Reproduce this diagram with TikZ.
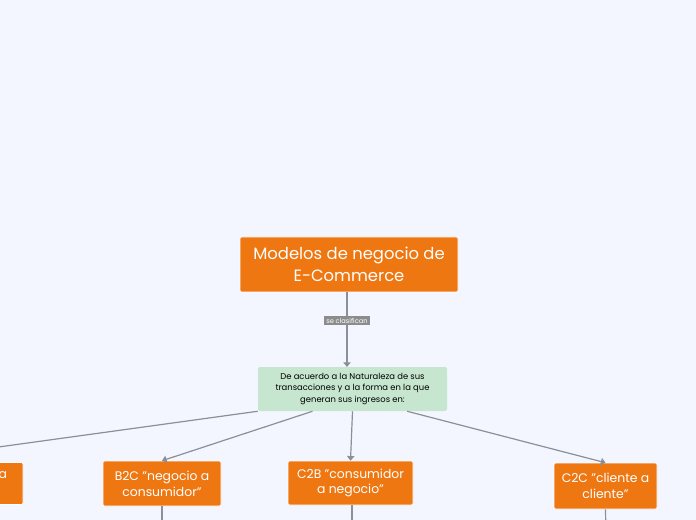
\documentclass[tikz,border=0pt]{standalone}
\usepackage{fontspec}
\setmainfont{Poppins}
\usepackage{tikz}
\usetikzlibrary{shapes,arrows.meta,positioning,calc}
\usepackage{xcolor}

\definecolor{bgblue}{HTML}{F3F6FE}
\definecolor{mmorange}{HTML}{EE7712}
\definecolor{mmgreen}{HTML}{C6E6CF}
\definecolor{mmline}{HTML}{8A8F9A}
\definecolor{mmlabel}{HTML}{8C8C8C}

\tikzset{
    topic/.style={rectangle, rounded corners=1.5pt, fill=mmorange, draw=white, line width=0.4pt, text=white, align=center, inner sep=0pt},
    sub/.style={rectangle, rounded corners=1.5pt, fill=mmgreen, text=black, align=center, inner sep=0pt, font=\fontsize{6.3}{8.8}\selectfont},
    conn/.style={draw=mmline, line width=0.9pt, -{Triangle[width=5.5pt,length=3.5pt]}},
    tail/.style={draw=mmline, line width=0.9pt}
}

\begin{document}
\begin{tikzpicture}[x=0.75pt, y=-0.75pt]
    \fill[bgblue] (0,0) rectangle (696,520);
    \useasboundingbox (0,0) rectangle (696,520);
    \clip (0,0) rectangle (696,520);

    \node[topic, minimum width=163.5pt, minimum height=41.25pt, font=\fontsize{12.3}{16.5}\selectfont] (title) at (349,264.5) {Modelos de negocio de\\E-Commerce};
    \node[sub, minimum width=141.75pt, minimum height=33pt] (nat) at (352.5,389) {De acuerdo a la Naturaleza de sus\\transacciones y a la forma en la que\\generan sus ingresos en:};

    % Modelos
    \node[topic, minimum width=202.5pt, minimum height=31.5pt, font=\fontsize{9.3}{11.8}\selectfont] (b2b) at (-112,483.5) {B2B "negocio a negocio" o "empresa a\\empresa"};
    \node[topic, minimum width=88.5pt, minimum height=33.75pt, font=\fontsize{9.3}{11.8}\selectfont] (b2c) at (162,483.5) {B2C "negocio a\\consumidor"};
    \node[topic, minimum width=93.75pt, minimum height=33pt, font=\fontsize{9.3}{11.8}\selectfont] (c2b) at (350.5,483) {C2B "consumidor\\a negocio"};
    \node[topic, minimum width=77.25pt, minimum height=34.5pt, font=\fontsize{9.3}{11.8}\selectfont] (c2c) at (605.5,486) {C2C "cliente a\\cliente"};

    % Flechas
    \draw[conn] (title.south -| 347,0) -- (347,367) node[pos=0.38, fill=mmlabel, text=white, inner xsep=2pt, inner ysep=1.5pt, font=\fontsize{5}{5}\selectfont] (clas) {se clasifican};
    \draw[conn] (nat.south west) -- (b2b.north);
    \draw[conn] ([xshift=-30pt]nat.south) -- (b2c.north);
    \draw[conn] (nat.south) -- (c2b.north);
    \draw[conn] ([xshift=41pt]nat.south) -- (c2c.north);

    % Ramas hacia abajo
    \coordinate (b2cdown) at (162,540);
    \coordinate (c2bdown) at (352,540);
    \coordinate (c2cdown) at (606,540);
    \draw[tail] (b2c.south) -- (b2cdown);
    \draw[tail] (c2b.south -| c2bdown) -- (c2bdown);
    \draw[tail] (c2c.south) -- (c2cdown);
\end{tikzpicture}
\end{document}
